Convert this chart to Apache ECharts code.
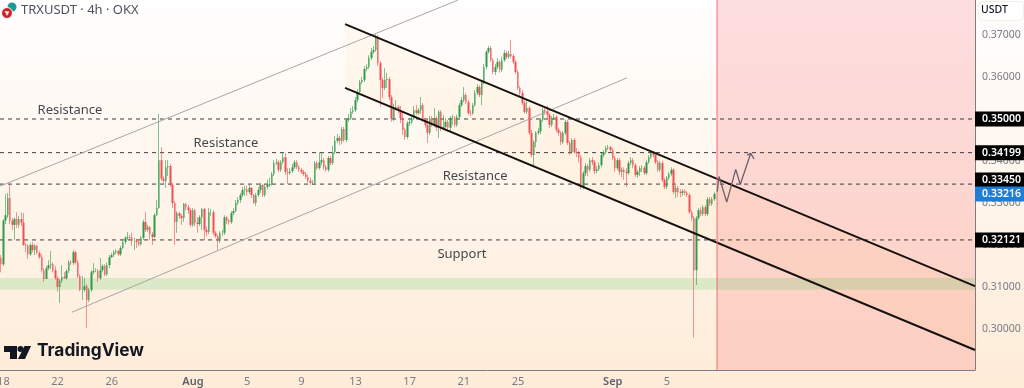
<!DOCTYPE html>
<html>
<head>
<meta charset="utf-8">
<title>TRXUSDT</title>
<style>
html, body { margin: 0; padding: 0; background: #fff; }
#chart { width: 1024px; height: 388px; }
</style>
<script src="https://cdn.jsdelivr.net/npm/echarts@6/dist/echarts.min.js"></script>
</head>
<body>
<div id="chart"></div>
<script>
// 4h candles, one per bar, open = previous close
var firstOpen = 0.3169;
var closes = [
.3154,.3258,.3271,.3312,.3258,.3248,.3262,.3248,.3262,.3253,
.3200,.3198,.3178,.3200,.3188,.3198,.3181,.3171,.3140,.3119,
.3145,.3152,.3154,.3140,.3121,.3100,.3115,.3124,.3121,.3138,
.3159,.3157,.3183,.3159,.3126,.3093,.3093,.3102,.3069,.3093,
.3135,.3138,.3138,.3121,.3140,.3150,.3130,.3152,.3171,.3176,
.3183,.3186,.3178,.3193,.3207,.3217,.3219,.3217,.3210,.3210,
.3207,.3202,.3217,.3255,.3236,.3243,.3226,.3219,.3271,.3288,
.3402,.3358,.3353,.3385,.3388,.3343,.3300,.3255,.3276,.3269,
.3264,.3298,.3290,.3283,.3248,.3283,.3253,.3250,.3266,.3286,
.3236,.3231,.3278,.3278,.3229,.3221,.3210,.3229,.3229,.3266,
.3258,.3255,.3276,.3281,.3300,.3307,.3319,.3331,.3333,.3326,
.3336,.3319,.3300,.3319,.3331,.3343,.3319,.3338,.3343,.3345,
.3369,.3395,.3397,.3379,.3397,.3409,.3374,.3371,.3376,.3385,
.3397,.3385,.3379,.3374,.3369,.3362,.3353,.3348,.3348,.3395,
.3383,.3397,.3402,.3385,.3379,.3407,.3395,.3421,.3448,.3455,
.3448,.3476,.3450,.3498,.3502,.3517,.3521,.3545,.3564,.3588,
.3593,.3619,.3624,.3645,.3660,.3664,.3695,.3633,.3593,.3574,
.3593,.3595,.3552,.3500,.3526,.3529,.3521,.3502,.3474,.3457,
.3490,.3493,.3502,.3521,.3514,.3521,.3533,.3498,.3486,.3467,
.3502,.3486,.3502,.3479,.3517,.3479,.3481,.3493,.3479,.3502,
.3503,.3486,.3505,.3533,.3545,.3557,.3540,.3514,.3513,.3533,
.3562,.3576,.3557,.3588,.3624,.3660,.3669,.3640,.3612,.3624,
.3636,.3617,.3640,.3657,.3648,.3655,.3650,.3636,.3612,.3574,
.3562,.3538,.3517,.3526,.3467,.3414,.3445,.3467,.3471,.3498,
.3521,.3517,.3510,.3486,.3502,.3505,.3474,.3467,.3445,.3467,
.3493,.3443,.3421,.3450,.3421,.3419,.3409,.3338,.3371,.3388,
.3379,.3402,.3397,.3376,.3381,.3390,.3414,.3421,.3431,.3433,
.3426,.3407,.3383,.3402,.3374,.3379,.3374,.3371,.3395,.3402,
.3390,.3367,.3374,.3383,.3384,.3371,.3397,.3409,.3419,.3414,
.3397,.3379,.3395,.3355,.3338,.3360,.3369,.3379,.3326,.3336,
.3326,.3324,.3328,.3324,.3319,.3278,.3264,.3140,.3264,.3283,
.3274,.3290,.3274,.3309,.3298,.3309,.33216
];
var highs = [
.3176,.3262,.3321,.3324,.3343,.3264,.3266,.3278,.3269,.3278,
.3276,.3205,.3202,.3205,.3207,.3202,.3200,.3186,.3178,.3145,
.3150,.3164,.3186,.3159,.3150,.3126,.3119,.3152,.3135,.3143,
.3164,.3164,.3188,.3186,.3164,.3130,.3126,.3121,.3107,.3098,
.3140,.3157,.3145,.3143,.3169,.3154,.3154,.3159,.3176,.3181,
.3188,.3190,.3188,.3198,.3212,.3221,.3231,.3224,.3229,.3217,
.3214,.3212,.3221,.3260,.3278,.3248,.3245,.3231,.3276,.3307,
.3512,.3433,.3364,.3402,.3402,.3393,.3348,.3305,.3281,.3278,
.3274,.3300,.3300,.3295,.3288,.3288,.3286,.3266,.3271,.3288,
.3288,.3245,.3288,.3286,.3283,.3233,.3226,.3233,.3236,.3271,
.3269,.3262,.3281,.3288,.3307,.3314,.3324,.3338,.3341,.3341,
.3343,.3338,.3321,.3324,.3338,.3348,.3345,.3343,.3355,.3360,
.3374,.3402,.3405,.3402,.3402,.3421,.3419,.3383,.3383,.3393,
.3402,.3402,.3390,.3383,.3379,.3374,.3367,.3360,.3355,.3400,
.3400,.3421,.3421,.3407,.3390,.3412,.3412,.3436,.3460,.3464,
.3460,.3481,.3481,.3502,.3512,.3526,.3531,.3552,.3571,.3593,
.3600,.3626,.3631,.3652,.3669,.3674,.3702,.3700,.3638,.3598,
.3621,.3610,.3600,.3557,.3536,.3545,.3533,.3531,.3514,.3479,
.3495,.3502,.3510,.3531,.3533,.3526,.3552,.3538,.3502,.3500,
.3507,.3507,.3526,.3507,.3521,.3521,.3510,.3502,.3498,.3507,
.3510,.3507,.3510,.3538,.3552,.3576,.3562,.3545,.3521,.3538,
.3569,.3583,.3581,.3593,.3631,.3664,.3674,.3674,.3645,.3631,
.3645,.3640,.3648,.3664,.3662,.3662,.3688,.3655,.3640,.3617,
.3579,.3569,.3543,.3545,.3531,.3474,.3450,.3471,.3479,.3502,
.3526,.3526,.3531,.3514,.3507,.3512,.3510,.3479,.3471,.3471,
.3498,.3498,.3448,.3455,.3455,.3431,.3424,.3414,.3376,.3395,
.3393,.3407,.3409,.3402,.3388,.3397,.3419,.3426,.3436,.3438,
.3436,.3431,.3412,.3407,.3407,.3385,.3385,.3383,.3400,.3409,
.3407,.3395,.3379,.3388,.3390,.3388,.3402,.3414,.3424,.3424,
.3419,.3402,.3400,.3400,.3360,.3364,.3374,.3385,.3383,.3341,
.3341,.3333,.3333,.3333,.3328,.3324,.3283,.3269,.3269,.3288,
.3290,.3295,.3295,.3314,.3314,.3314,.3326
];
var lows = [
.3135,.3150,.3250,.3264,.3250,.3236,.3212,.3241,.3241,.3245,
.3198,.3183,.3167,.3174,.3183,.3176,.3178,.3167,.3135,.3112,
.3126,.3140,.3143,.3135,.3117,.3088,.3062,.3110,.3119,.3117,
.3133,.3152,.3152,.3154,.3121,.3090,.3069,.3088,.3002,.3064,
.3088,.3130,.3135,.3112,.3117,.3135,.3126,.3126,.3145,.3169,
.3171,.3178,.3174,.3174,.3190,.3202,.3212,.3212,.3198,.3188,
.3193,.3198,.3198,.3212,.3231,.3231,.3212,.3200,.3217,.3269,
.3286,.3353,.3345,.3336,.3364,.3338,.3288,.3200,.3229,.3262,
.3248,.3255,.3283,.3274,.3243,.3243,.3245,.3229,.3245,.3236,
.3212,.3221,.3226,.3269,.3224,.3217,.3188,.3205,.3221,.3224,
.3250,.3248,.3250,.3271,.3278,.3295,.3300,.3314,.3317,.3317,
.3321,.3312,.3298,.3293,.3314,.3324,.3314,.3314,.3333,.3338,
.3341,.3364,.3390,.3374,.3374,.3393,.3367,.3345,.3367,.3371,
.3381,.3381,.3374,.3369,.3364,.3357,.3348,.3343,.3343,.3343,
.3379,.3379,.3390,.3379,.3374,.3374,.3390,.3390,.3417,.3443,
.3438,.3440,.3445,.3445,.3493,.3498,.3512,.3517,.3540,.3560,
.3583,.3588,.3614,.3619,.3640,.3655,.3660,.3626,.3529,.3550,
.3569,.3574,.3545,.3493,.3495,.3521,.3514,.3490,.3462,.3450,
.3452,.3483,.3488,.3498,.3510,.3510,.3512,.3493,.3479,.3443,
.3462,.3481,.3481,.3471,.3455,.3471,.3474,.3476,.3471,.3471,
.3486,.3481,.3481,.3500,.3529,.3540,.3536,.3510,.3507,.3510,
.3529,.3557,.3552,.3533,.3583,.3619,.3655,.3636,.3607,.3605,
.3619,.3610,.3612,.3636,.3643,.3643,.3645,.3631,.3607,.3569,
.3555,.3533,.3512,.3512,.3462,.3409,.3385,.3433,.3462,.3464,
.3493,.3510,.3502,.3479,.3481,.3498,.3469,.3460,.3438,.3440,
.3462,.3438,.3414,.3417,.3417,.3409,.3397,.3333,.3333,.3364,
.3364,.3374,.3390,.3369,.3371,.3376,.3385,.3409,.3417,.3426,
.3421,.3402,.3374,.3379,.3367,.3362,.3355,.3338,.3367,.3390,
.3383,.3362,.3360,.3364,.3374,.3367,.3367,.3393,.3405,.3409,
.3393,.3374,.3374,.3350,.3333,.3333,.3355,.3364,.3321,.3312,
.3314,.3314,.3317,.3319,.3314,.3274,.3258,.2979,.3105,.3260,
.3269,.3269,.3269,.3269,.3293,.3293,.3305
];

var barSlots = 432;
var tickBars = [1, 25, 49, 85, 109, 133, 157, 181, 205, 229, 271, 295];
var tickTexts = ['18', '22', '26', 'Aug', '5', '9', '13', '17', '21', '25', 'Sep', '5'];
var priceTicks = [0.30, 0.31, 0.32, 0.33, 0.34, 0.35, 0.36, 0.37];
var levelPrices = [0.35, 0.34199, 0.3345, 0.32121];
// the 0.33450 tag sits a bit higher on the axis so it clears the last price tag
var levelTagAt = [0.35, 0.34199, 0.33548, 0.32121];
var lastPrice = 0.33216;
var priceMin = 0.29024, priceMax = 0.37833;

// drawings, [bar, price]
var channelTop = [[152.4, 0.3726], [431.5, 0.3102]];
var channelBottom = [[152.4, 0.3574], [431.5, 0.2950]];
var riseTop = [[-0.5, 0.3340], [202.4, 0.3783]];
var riseBottom = [[31.4, 0.3040], [277.3, 0.3598]];
var zigzag = [[317.3, 0.3327], [318.1, 0.3363], [321.5, 0.3302], [325.5, 0.3380], [327.5, 0.3344], [332.1, 0.3418]];
var arrowHead = [[330.5, 0.3414], [332.1, 0.3418], [333.6, 0.3405]];
var greenZone = [0.30935, 0.31214];
var targetBar = 317.2;
var notes = [
	['Resistance', 30.5, 0.3521],
	['Resistance', 99.6, 0.3443],
	['Resistance', 210, 0.3364],
	['Support', 204.2, 0.3179]
];

var red = '#f14f53', green = '#2f9a4c';
var textFont = '"Noto Sans", sans-serif';

var wickData = [], bodyData = [], categories = [];
closes.forEach(function (c, i) {
	var o = i == 0 ? firstOpen : closes[i - 1];
	wickData.push([o, c, lows[i], highs[i]]);
	bodyData.push([o, c, Math.min(o, c), Math.max(o, c)]);
});
for (var i = 0; i < barSlots; i++) categories.push(String(i));

function boxSeries(name, z, draw) {
	return { type: 'custom', name: name, xAxisIndex: 1, z: z, silent: true, clip: true,
		data: [0], renderItem: draw };
}
function lineSeries(points, color, width, z, type) {
	return { type: 'line', xAxisIndex: 1, data: points, symbol: 'none', silent: true, z: z,
		animation: false, lineStyle: { color: color, width: width, type: type || 'solid' } };
}
function rectFrom(api, x0, x1, p0, p1) {
	var a = api.coord([x0, p1]), b = api.coord([x1, p0]);
	return { x: a[0], y: a[1], width: b[0] - a[0], height: b[1] - a[1] };
}

var series = [
	boxSeries('target', 1, function (params, api) {
		return { type: 'rect', shape: rectFrom(api, targetBar, 431.5, priceMin, priceMax),
			style: { fill: 'rgba(242,54,69,0.16)' } };
	}),
	boxSeries('channel', 1, function (params, api) {
		var pts = [channelTop[0], channelTop[1], channelBottom[1], channelBottom[0]].map(function (p) {
			return api.coord(p);
		});
		return { type: 'polygon', shape: { points: pts }, style: { fill: 'rgba(255,152,0,0.045)' } };
	}),
	boxSeries('zone', 2, function (params, api) {
		return { type: 'rect', shape: rectFrom(api, -0.5, 431.5, greenZone[0], greenZone[1]),
			style: { fill: 'rgba(40,190,60,0.16)' } };
	})
];
levelPrices.forEach(function (p) {
	series.push(lineSeries([[-0.5, p], [431.5, p]], 'rgba(30,30,35,0.85)', 1, 3, [4, 4]));
});
series.push({
	type: 'candlestick', name: 'wicks', data: wickData, xAxisIndex: 0, z: 4, barWidth: 1, silent: true, animation: false,
	itemStyle: { color: 'rgba(47,154,76,0.6)', color0: 'rgba(241,79,83,0.6)',
		borderColor: 'rgba(47,154,76,0.6)', borderColor0: 'rgba(241,79,83,0.6)', borderWidth: 1 }
}, {
	type: 'candlestick', name: 'bodies', data: bodyData, xAxisIndex: 0, z: 5, barWidth: 2, silent: true, animation: false,
	itemStyle: { color: green, color0: red, borderColor: green, borderColor0: red, borderWidth: 0 }
});
series.push(lineSeries(riseTop, '#a8a5a6', 1, 6));
series.push(lineSeries(riseBottom, '#a8a5a6', 1, 6));
series.push(lineSeries(channelTop, '#16100e', 2, 7));
series.push(lineSeries(channelBottom, '#16100e', 2, 7));
series.push(lineSeries([[targetBar, priceMin], [targetBar, priceMax]], '#ee6b72', 1, 7));
series.push(lineSeries(zigzag, '#6a5f6c', 1.3, 8));
series.push(lineSeries(arrowHead, '#6a5f6c', 1.3, 8));
series.push({
	type: 'scatter', xAxisIndex: 1, symbolSize: 1, z: 9, silent: true, animation: false,
	itemStyle: { color: 'transparent' },
	data: notes.map(function (n) { return { name: n[0], value: [n[1], n[2]] }; }),
	label: { show: true, position: 'inside', formatter: '{b}', color: '#131722', fontSize: 13, fontFamily: textFont }
});

function valueAxis(z, label) {
	return { type: 'value', position: 'right', min: priceMin, max: priceMax, z: z, scale: true,
		axisLine: { show: false }, axisTick: { show: false }, splitLine: { show: false }, axisLabel: label };
}
var priceAxis = valueAxis(3, { customValues: priceTicks, margin: 7, color: '#787b86', fontSize: 10.5, fontFamily: textFont,
	formatter: function (v) { return v.toFixed(5); } });
priceAxis.axisLine = { show: true, onZero: false, lineStyle: { color: '#7f7b80', width: 1 } };

function tagAxis(z, values, texts, bg) {
	return valueAxis(z, { customValues: values, margin: 0, color: '#fff', fontSize: 10.5, fontFamily: textFont,
		backgroundColor: bg, padding: [2, 5, 2, 7], lineHeight: 11, fontWeight: 600,
		formatter: function (v) { return texts[values.indexOf(v)].toFixed(5); } });
}

var option = {
	animation: false,
	backgroundColor: new echarts.graphic.LinearGradient(0, 0, 0, 1, [
		{ offset: 0, color: '#fffefe' }, { offset: 1, color: '#feecd8' }
	]),
	grid: { left: 0, right: 49, top: 0, bottom: 18, containLabel: false, outerBoundsMode: 'none' },
	xAxis: [{
		type: 'category', data: categories, boundaryGap: true,
		axisLine: { show: true, onZero: false, lineStyle: { color: '#7f7b80', width: 1 } },
		axisTick: { show: false }, splitLine: { show: false },
		axisLabel: {
			margin: 6, color: '#787b86', fontSize: 11, fontFamily: textFont, hideOverlap: false,
			interval: function (index) { return tickBars.indexOf(index) >= 0; },
			formatter: function (v, index) {
				var t = tickTexts[tickBars.indexOf(index)];
				return /[A-Z]/.test(t) ? '{m|' + t + '}' : t;
			},
			rich: { m: { color: '#5d606b', fontSize: 11, fontWeight: 600, fontFamily: textFont } }
		}
	}, {
		type: 'value', min: -0.5, max: 431.5, show: false
	}],
	yAxis: [priceAxis, tagAxis(6, levelTagAt, levelPrices, '#000'), tagAxis(7, [lastPrice], [lastPrice], '#1c7ed6')],
	series: series,
	graphic: [
		{ type: 'circle', z: 50, shape: { cx: 12, cy: 7, r: 4.5 }, style: { fill: '#1c9c98' } },
		{ type: 'circle', z: 51, shape: { cx: 7, cy: 13, r: 5.5 }, style: { fill: '#c9252c', stroke: '#fff', lineWidth: 1 } },
		{ type: 'polygon', z: 52, shape: { points: [[4.5, 11], [9.5, 11.5], [7, 16]] }, style: { fill: '#f8dcdc' } },
		{ type: 'text', z: 52, x: 21, y: 4, style: { text: 'TRXUSDT · 4h · OKX', fill: '#4f5260', fontSize: 13, fontFamily: textFont } },
		{ type: 'rect', z: 52, shape: { x: 978.5, y: 1.5, width: 45, height: 19, r: 4 }, style: { fill: '#fff', stroke: '#f3eee8' } },
		{ type: 'text', z: 53, x: 981, y: 5, style: { text: 'USDT', fill: '#131722', fontSize: 10.5, fontWeight: 500, fontFamily: textFont } },
		{ type: 'polygon', z: 52, shape: { points: [[4, 346], [17, 346], [17, 359], [10, 359], [10, 352], [4, 352]] }, style: { fill: '#131722' } },
		{ type: 'circle', z: 52, shape: { cx: 20.5, cy: 349, r: 3 }, style: { fill: '#131722' } },
		{ type: 'polygon', z: 52, shape: { points: [[24.5, 346], [31, 346], [25, 359], [18, 359]] }, style: { fill: '#131722' } },
		{ type: 'text', z: 52, x: 37, y: 342, style: { text: 'TradingView', fill: '#131722', fontSize: 17.3, fontWeight: 700, fontFamily: 'Inter, sans-serif' } }
	]
};

var myChart = echarts.init(document.getElementById('chart'));
myChart.setOption(option);
</script>
</body>
</html>
